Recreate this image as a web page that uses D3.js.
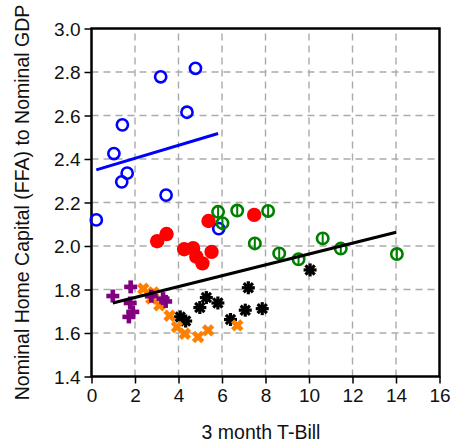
<!DOCTYPE html>
<html><head><meta charset="utf-8">
<script src="https://cdn.jsdelivr.net/npm/d3@7"></script>
<style>
body{margin:0;background:#fff;}
text{font-family:"Liberation Sans",Arial,Helvetica,sans-serif;}
</style></head>
<body><svg id="c" width="455" height="445"></svg>
<script>
// ---- data ----
const blueX = [0.22,1.03,1.42,1.39,1.64,3.18,3.43,4.39,4.78,5.85];
const blueY = [2.12,2.425,2.557,2.295,2.335,2.778,2.234,2.615,2.817,2.08];
const redX = [3.02,3.45,4.26,4.67,4.82,5.10,5.52,5.38,7.48];
const redY = [2.022,2.055,1.985,1.99,1.951,1.92,1.973,2.115,2.143];
const greenX = [5.82,6.02,6.70,8.12,7.51,8.63,9.52,10.63,11.46,14.04];
const greenY = [2.157,2.105,2.163,2.161,2.012,1.966,1.939,2.035,1.988,1.963];
const blackX = [4.08,4.33,4.98,5.28,5.81,6.39,7.07,7.21,7.85,10.05];
const blackY = [1.674,1.655,1.717,1.763,1.738,1.662,1.705,1.808,1.712,1.890];
const orangeX = [2.38,2.85,2.75,3.12,3.59,3.93,4.29,4.90,5.36,6.70];
const orangeY = [1.803,1.786,1.759,1.728,1.679,1.628,1.597,1.582,1.612,1.635];
const purpleX = [0.98,1.80,1.78,1.90,1.72,2.75,3.29,3.41];
const purpleY = [1.770,1.812,1.738,1.697,1.674,1.769,1.758,1.745];
const blueFitX = [0.22,5.82], blueFitY = [2.35,2.517];
const blackFitX = [0.98,14.01], blackFitY = [1.738,2.063];
const xTicks = [0,2,4,6,8,10,12,14,16];
const yTicks = [1.4,1.6,1.8,2.0,2.2,2.4,2.6,2.8,3.0];
const xTitle = "3 month T-Bill";
const yTitle = "Nominal Home Capital (FFA) to Nominal GDP";

const svg = d3.select("#c");
const x = d3.scaleLinear().domain([0,16]).range([91.5,439.5]);
const y = d3.scaleLinear().domain([1.4,3.0]).range([376.5,28.5]);

// grid
const g = svg.append("g");
g.selectAll(".vx").data(xTicks.slice(1,-1)).join("line")
  .attr("x1",d=>x(d)).attr("x2",d=>x(d)).attr("y1",y(1.4)).attr("y2",y(3.0))
  .attr("stroke","#aaa").attr("stroke-width",1.4).attr("stroke-dasharray","7,5");
g.selectAll(".hy").data(yTicks.slice(1,-1)).join("line")
  .attr("y1",d=>y(d)).attr("y2",d=>y(d)).attr("x1",x(0)).attr("x2",x(16))
  .attr("stroke","#aaa").attr("stroke-width",1.4).attr("stroke-dasharray","7,5");

// axes
const ax = svg.append("g").attr("transform",`translate(0,${y(1.4)})`)
  .call(d3.axisBottom(x).tickValues(xTicks).tickFormat(d3.format("d")).tickSize(7).tickPadding(5));
const ay = svg.append("g").attr("transform",`translate(${x(0)},0)`)
  .call(d3.axisLeft(y).tickValues(yTicks).tickFormat(d3.format(".1f")).tickSize(7).tickPadding(4));
[ax,ay].forEach(a=>{
  a.select(".domain").remove();
  a.selectAll(".tick line").attr("stroke","#000").attr("stroke-width",1.5);
  a.selectAll(".tick text").attr("font-size","19px").attr("fill","#111")
   .style("font-family",'"Liberation Sans",Arial,sans-serif');
});
ay.selectAll(".tick text").attr("dy","0.35em");

// frame
svg.append("rect").attr("x",x(0)).attr("y",y(3.0)).attr("width",x(16)-x(0)).attr("height",y(1.4)-y(3.0))
  .attr("fill","none").attr("stroke","#000").attr("stroke-width",2.5);

// titles
svg.append("text").attr("x",261).attr("y",439).attr("text-anchor","middle")
  .attr("font-size","19.5px").attr("fill","#111").text(xTitle);
svg.append("text").attr("transform",`translate(29,${(y(1.4)+y(3.0))/2}) rotate(-90)`)
  .attr("text-anchor","middle").attr("font-size","19.5px").attr("fill","#111").text(yTitle);

const zip = (a,b)=>a.map((v,i)=>[v,b[i]]);
const pts = svg.append("g");

// blue open circles
pts.selectAll(".b").data(zip(blueX,blueY)).join("circle")
  .attr("cx",d=>x(d[0])).attr("cy",d=>y(d[1])).attr("r",5.6)
  .attr("fill","none").attr("stroke","#0000ff").attr("stroke-width",2.6);
// red filled circles
pts.selectAll(".r").data(zip(redX,redY)).join("circle")
  .attr("cx",d=>x(d[0])).attr("cy",d=>y(d[1])).attr("r",7.2)
  .attr("fill","#ff0000");
// green circles with bar
const gg = pts.selectAll(".gr").data(zip(greenX,greenY)).join("g")
  .attr("transform",d=>`translate(${x(d[0])},${y(d[1])})`);
gg.append("circle").attr("r",5.7).attr("fill","none").attr("stroke","#008000").attr("stroke-width",2.6);
gg.append("line").attr("y1",-5.7).attr("y2",5.7).attr("stroke","#008000").attr("stroke-width",2);
// black asterisks
const bk = pts.selectAll(".bk").data(zip(blackX,blackY)).join("g")
  .attr("transform",d=>`translate(${x(d[0])},${y(d[1])})`);
[0,45,90,135].forEach(a=>{
  bk.append("line").attr("x1",-6.5).attr("x2",6.5).attr("transform",`rotate(${a})`)
    .attr("stroke","#000").attr("stroke-width",3.2);
});
bk.append("circle").attr("r",3.6).attr("fill","#000");
// orange X
const or = pts.selectAll(".o").data(zip(orangeX,orangeY)).join("g")
  .attr("transform",d=>`translate(${x(d[0])},${y(d[1])})`);
[45,135].forEach(a=>{
  or.append("line").attr("x1",-6.5).attr("x2",6.5).attr("transform",`rotate(${a})`)
    .attr("stroke","#ff8000").attr("stroke-width",4.6);
});
// purple plus
const pu = pts.selectAll(".p").data(zip(purpleX,purpleY)).join("g")
  .attr("transform",d=>`translate(${x(d[0])},${y(d[1])})`);
[0,90].forEach(a=>{
  pu.append("line").attr("x1",-6.5).attr("x2",6.5).attr("transform",`rotate(${a})`)
    .attr("stroke","#800080").attr("stroke-width",4.6);
});

// fit lines
const line = d3.line().x(d=>x(d[0])).y(d=>y(d[1]));
svg.append("path").attr("d",line(zip(blueFitX,blueFitY))).attr("stroke","#0000ff").attr("stroke-width",3).attr("fill","none");
svg.append("path").attr("d",line(zip(blackFitX,blackFitY))).attr("stroke","#000").attr("stroke-width",3.2).attr("fill","none");
</script></body></html>
